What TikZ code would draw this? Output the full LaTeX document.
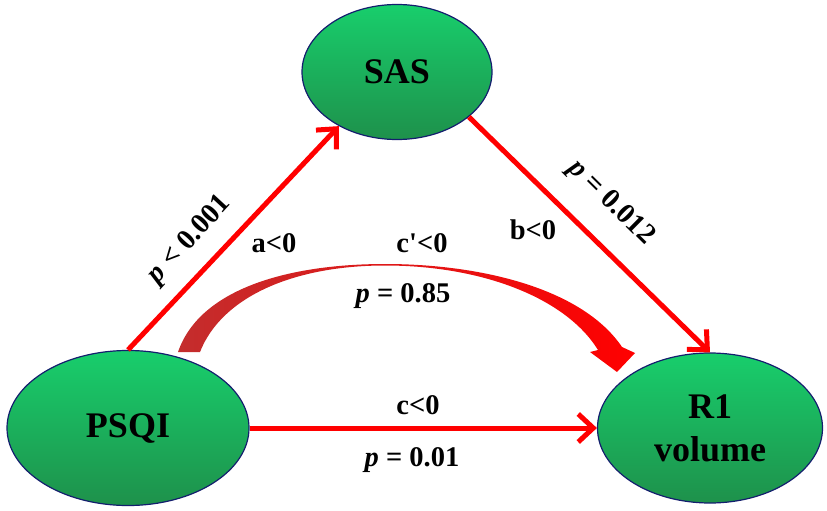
\documentclass[tikz,border=0pt]{standalone}
\usepackage{fontspec}
\setmainfont{Liberation Serif}
\usetikzlibrary{shapes.geometric,arrows.meta}
\definecolor{gtop}{RGB}{24,206,108}
\definecolor{gbot}{RGB}{30,145,75}
\definecolor{navy}{RGB}{20,30,110}
\definecolor{cdark}{RGB}{195,45,45}
\tikzset{
  var/.style={ellipse, draw=navy, line width=1.2pt, top color=gtop, bottom color=gbot, inner sep=0pt,
    font=\fontsize{36}{43}\selectfont\bfseries, align=center},
  path/.style={draw=red, line width=5pt, -{Straight Barb[length=15pt,width=28pt]}},
  lab/.style={font=\fontsize{28.5}{34}\selectfont\bfseries, inner sep=0pt}
}
\begin{document}
\begin{tikzpicture}[x=1pt,y=-1pt]
\useasboundingbox (0,0) rectangle (827,511);
\node[var, minimum width=190pt, minimum height=135pt] (sas) at (397,72) {SAS};
\node[var, minimum width=242pt, minimum height=155pt] (psqi) at (128,428) {PSQI};
\node[var, minimum width=225pt, minimum height=150pt] (r1) at (710,428) {R1\\volume};
\draw[path] (psqi.north) -- (sas.223);
\draw[path] (sas.-32) -- (r1.north);
\draw[path] (psqi.east) -- (r1.west);
\shade[left color=cdark, right color=red]
  (178,352) .. controls (200,288) and (290,264) .. (385,264)
  .. controls (480,264) and (582,288) .. (622,347)
  -- (635,353) -- (617,372) -- (590,352) -- (598,350)
  .. controls (566,298) and (482,265.5) .. (385,265.5)
  .. controls (295,265.5) and (222,296) .. (200,352) -- cycle;
\node[lab, rotate=47.3] (pa) at (190,240) {\textit{p} < 0.001};
\node[lab, rotate=-44.7] (pb) at (611,203) {\textit{p} = 0.012};
\node[lab] (a) at (274,243) {a<0};
\node[lab] (cp) at (422,243) {c\textquotesingle<0};
\node[lab] (b) at (533,230) {b<0};
\node[lab] (p85) at (403,296) {\textit{p} = 0.85};
\node[lab] (c) at (418,405) {c<0};
\node[lab] (p01) at (412,460) {\textit{p} = 0.01};
\end{tikzpicture}
\end{document}
